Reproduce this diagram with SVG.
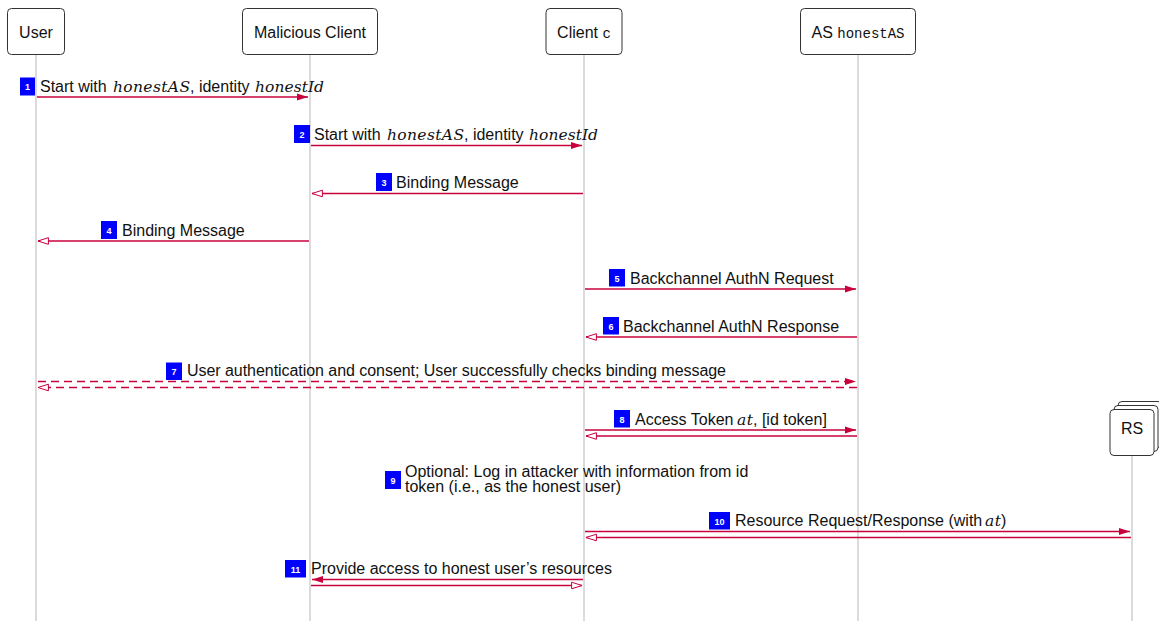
<svg xmlns="http://www.w3.org/2000/svg" width="1159" height="621" viewBox="0 0 1159 621">
<style>
.box{fill:#fff;stroke:#333;stroke-width:1}
.life{stroke:#c8c8c8;stroke-width:1.3;fill:none}
.t{font-family:"Liberation Sans",Arial,sans-serif;font-size:16px;fill:#111}
.m{font-family:"DejaVu Serif","Liberation Serif",serif;font-style:italic;font-size:15.5px}
.mono{font-family:"Liberation Mono","Courier New",monospace;font-size:14px}
.msg{stroke:#c8003c;stroke-width:1.3;fill:none}
.req{marker-end:url(#fill)}
.res{marker-end:url(#open)}
.dash{stroke-dasharray:8 5}
.badge{fill:#0000ff}
.bt{font-family:"Liberation Sans",Arial,sans-serif;font-size:9px;font-weight:bold;fill:#fff;text-anchor:middle}
</style>
<defs>
<marker id="fill" markerUnits="userSpaceOnUse" viewBox="0 0 12 9" markerWidth="12" markerHeight="9" refX="11" refY="4.5" orient="auto">
<path d="M0,1 L11,4.5 L0,8 Z" fill="#c8003c"/>
</marker>
<marker id="open" markerUnits="userSpaceOnUse" viewBox="0 0 12 9" markerWidth="12" markerHeight="9" refX="11" refY="4.5" orient="auto">
<path d="M0.6,1.2 L11,4.5 L0.6,7.8 Z" fill="#fff" stroke="#c8003c" stroke-width="1"/>
</marker>
</defs>
<rect width="1159" height="621" fill="#fff"/>
<g id="lifelines">
<line class="life" x1="36" y1="54" x2="36" y2="621"/>
<line class="life" x1="310" y1="54" x2="310" y2="621"/>
<line class="life" x1="584" y1="54" x2="584" y2="621"/>
<line class="life" x1="858" y1="54" x2="858" y2="621"/>
<line class="life" x1="1132" y1="455" x2="1132" y2="621"/>
</g>
<g id="node-user">
<rect class="box" x="7.5" y="8.5" width="57" height="46" rx="4"/>
<text class="t" x="36" y="37.5" text-anchor="middle">User</text>
</g>
<g id="node-malicious-client">
<rect class="box" x="242.5" y="8.5" width="135" height="46" rx="4"/>
<text class="t" x="310" y="37.5" text-anchor="middle">Malicious Client</text>
</g>
<g id="node-client-c">
<rect class="box" x="546" y="8.5" width="76" height="46" rx="4"/>
<text class="t" x="584" y="37.5" text-anchor="middle">Client <tspan class="mono">c</tspan></text>
</g>
<g id="node-as">
<rect class="box" x="800.5" y="8.5" width="115" height="46" rx="4"/>
<text class="t" x="858" y="37.5" text-anchor="middle">AS <tspan class="mono">honestAS</tspan></text>
</g>
<g id="node-rs">
<rect class="box" x="1118" y="401.5" width="44" height="46" rx="4"/>
<rect class="box" x="1114" y="405.5" width="44" height="46" rx="4"/>
<rect class="box" x="1110" y="409.5" width="44" height="46" rx="4"/>
<text class="t" x="1132" y="433.5" text-anchor="middle">RS</text>
</g>
<g id="connectors">
<line class="msg req" x1="37" y1="97" x2="308" y2="97"/>
<line class="msg req" x1="311" y1="145.5" x2="582" y2="145.5"/>
<line class="msg res" x1="583" y1="193.5" x2="312" y2="193.5"/>
<line class="msg res" x1="309" y1="241" x2="38" y2="241"/>
<line class="msg req" x1="585" y1="289" x2="856" y2="289"/>
<line class="msg res" x1="857" y1="337" x2="586" y2="337"/>
<line class="msg req dash" x1="38" y1="381.5" x2="856" y2="381.5"/>
<line class="msg res dash" x1="857" y1="387.5" x2="38" y2="387.5"/>
<line class="msg req" x1="585" y1="430" x2="856" y2="430"/>
<line class="msg res" x1="857" y1="436" x2="586" y2="436"/>
<line class="msg req" x1="585" y1="531.5" x2="1130" y2="531.5"/>
<line class="msg res" x1="1131" y1="537.5" x2="586" y2="537.5"/>
<line class="msg req" x1="583" y1="579.5" x2="312" y2="579.5"/>
<line class="msg res" x1="311" y1="585.5" x2="582" y2="585.5"/>
</g>
<g id="labels">
<g id="label-1">
<rect class="badge" x="20" y="77.5" width="15" height="18"/>
<text class="bt" x="27.5" y="90">1</text>
<text class="t" x="40" y="91.5">Start with <tspan class="m" x="113" textLength="77">honestAS</tspan><tspan x="190">, identity </tspan><tspan class="m" x="255" textLength="69">honestId</tspan></text>
</g>
<g id="label-2">
<rect class="badge" x="294" y="125" width="16" height="18"/>
<text class="bt" x="302" y="137.5">2</text>
<text class="t" x="314" y="140">Start with <tspan class="m" x="387" textLength="77">honestAS</tspan><tspan x="464">, identity </tspan><tspan class="m" x="529" textLength="69">honestId</tspan></text>
</g>
<g id="label-3">
<rect class="badge" x="376" y="173" width="16" height="18"/>
<text class="bt" x="384" y="185.5">3</text>
<text class="t" x="396" y="188">Binding Message</text>
</g>
<g id="label-4">
<rect class="badge" x="101" y="221" width="16" height="18"/>
<text class="bt" x="109" y="233.5">4</text>
<text class="t" x="122" y="235.5">Binding Message</text>
</g>
<g id="label-5">
<rect class="badge" x="609" y="269" width="16" height="17.5"/>
<text class="bt" x="617" y="281.5">5</text>
<text class="t" x="630" y="283.5">Backchannel AuthN Request</text>
</g>
<g id="label-6">
<rect class="badge" x="603" y="317" width="16" height="17.5"/>
<text class="bt" x="611" y="329.5">6</text>
<text class="t" x="623" y="331.5">Backchannel AuthN Response</text>
</g>
<g id="label-7">
<rect class="badge" x="166" y="362.5" width="16" height="17.5"/>
<text class="bt" x="174" y="375">7</text>
<text class="t" x="187" y="376" textLength="539">User authentication and consent; User successfully checks binding message</text>
</g>
<g id="label-8">
<rect class="badge" x="614" y="410" width="16" height="17.5"/>
<text class="bt" x="622" y="422.5">8</text>
<text class="t" x="635" y="424.5">Access Token <tspan class="m" x="737" textLength="16">at</tspan><tspan x="753">, [id token]</tspan></text>
</g>
<g id="label-9">
<rect class="badge" x="385" y="471" width="16" height="18"/>
<text class="bt" x="393" y="483.5">9</text>
<text class="t" x="405" y="477">Optional: Log in attacker with information from id</text>
<text class="t" x="405" y="492">token (i.e., as the honest user)</text>
</g>
<g id="label-10">
<rect class="badge" x="709" y="512" width="21" height="17.5"/>
<text class="bt" x="719.5" y="524.5">10</text>
<text class="t" x="735" y="526">Resource Request/Response (with <tspan class="m" x="985" textLength="16">at</tspan><tspan x="1001">)</tspan></text>
</g>
<g id="label-11">
<rect class="badge" x="285" y="560" width="21" height="17.5"/>
<text class="bt" x="295.5" y="572.5">11</text>
<text class="t" x="311" y="574">Provide access to honest user’s resources</text>
</g>
</g>
</svg>
